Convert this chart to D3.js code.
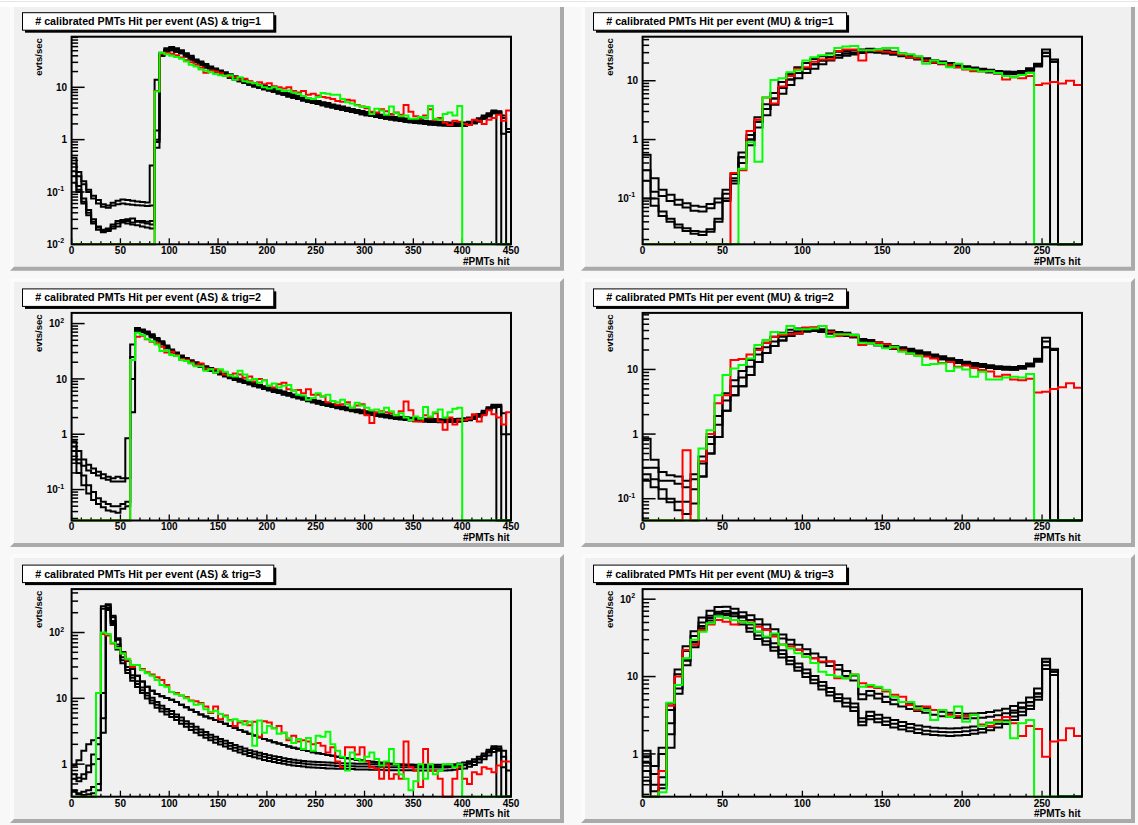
<!DOCTYPE html>
<html>
<head>
<meta charset="utf-8">
<style>
body { margin: 0; background: #f8f8f8; }
svg { display: block; font-family: "Liberation Sans", Arial, sans-serif; font-weight: bold; }
</style>
</head>
<body>
<svg width="1138" height="825"></svg>
<script src="https://cdn.jsdelivr.net/npm/d3@7"></script>
<script>

var binW = 5;
var asXTicks = [0, 50, 100, 150, 200, 250, 300, 350, 400, 450];
var muXTicks = [0, 50, 100, 150, 200, 250];
var titles = [
  "# calibrated PMTs Hit per event (AS) & trig=1",
  "# calibrated PMTs Hit per event (MU) & trig=1",
  "# calibrated PMTs Hit per event (AS) & trig=2",
  "# calibrated PMTs Hit per event (MU) & trig=2",
  "# calibrated PMTs Hit per event (AS) & trig=3",
  "# calibrated PMTs Hit per event (MU) & trig=3"
];
var yDomains = [[0.01, 92.7], [0.0166, 56], [0.0276, 156], [0.046, 75], [0.32, 457], [0.28, 135]];

// ---------- AS trig=1 (bins of 5, 0..450) ----------
var asT1LowA = [0.45,0.24,0.16,0.11,0.085,0.07,0.058,0.055,0.062,0.068, 0.072,0.07,0.068,0.066,0.064,0.063,0.32,14];
var asT1LowB = [0.35,0.2,0.14,0.1,0.075,0.06,0.052,0.05,0.055,0.058, 0.06,0.058,0.057,0.056,0.055,0.054,0.055,1.5];
var asT1LowC = [0.25,0.13,0.075,0.045,0.03,0.022,0.019,0.02,0.024,0.028, 0.029,0.028,0.026,0.027,0.028,0.025,0.024,0.7];
var asT1LowD = [0.15,0.1,0.06,0.036,0.025,0.019,0.017,0.018,0.02,0.022, 0.027,0.03,0.031,0.028,0.026,0.027,0.028,1.0];
var asT1LowE = [0.2,0.11,0.065,0.04,0.027,0.021,0.018,0.019,0.022,0.025, 0.026,0.025,0.024,0.023,0.022,0.021,0.02,0.9];
// bins 90..430
var asT1MainHi = [46,56,59,56,51,45,40,34,31,28,
  25,23,21,19.3,17.7,16.3,15,13.9,12.8,12,
  11.2,10.6,10.1,9.4,8.8,8.2,7.7,7.3,6.8,6.4,
  6.1,5.8,5.5,5.2,5.0,4.7,4.5,4.3,4.07,3.87,
  3.7,3.53,3.38,3.24,3.11,3.0,2.89,2.78,2.7,2.61,
  2.54,2.47,2.41,2.35,2.3,2.25,2.2,2.17,2.14,2.12,
  2.11,2.11,2.12,2.19,2.35,2.57,2.89,3.2,3.6];
var asT1MainMid = [43,52,55,52,48,42,37,32,29,26,
  23.5,21.5,19.5,18,16.5,15.2,14,13,12,11.2,
  10.5,9.9,9.4,8.8,8.2,7.7,7.2,6.8,6.4,6.0,
  5.7,5.4,5.15,4.9,4.65,4.42,4.2,4.0,3.8,3.62,
  3.46,3.3,3.16,3.03,2.91,2.8,2.7,2.6,2.52,2.44,
  2.37,2.31,2.25,2.2,2.15,2.1,2.06,2.03,2.0,1.98,
  1.97,1.97,1.98,2.05,2.2,2.4,2.7,3.0,3.4];
var asT1MainLo = [40,48,51,48,45,39,34,30,27,24,
  21.9,20,18.1,16.7,15.3,14.1,13,12.1,11.2,10.4,
  9.8,9.2,8.7,8.2,7.6,7.2,6.7,6.3,5.95,5.6,
  5.3,5.0,4.8,4.56,4.32,4.1,3.9,3.72,3.53,3.37,
  3.22,3.07,2.94,2.82,2.71,2.6,2.51,2.42,2.34,2.27,
  2.2,2.15,2.09,2.05,2.0,1.95,1.92,1.89,1.86,1.84,
  1.83,1.83,1.84,1.91,2.05,2.23,2.5,2.8,3.2];
var asT1Black = [
  asT1LowA.concat(asT1MainHi, [3.3, 2.6, 1.6]),
  asT1LowB.concat(asT1MainMid, [0, 0, 0]),
  asT1LowC.concat(asT1MainLo, [3.4, 0, 0]),
  asT1LowD.concat(asT1MainMid, [3.5, 1.3, 0]),
  asT1LowE.concat(asT1MainLo, [3.2, 2.9, 1.4])
];
var asT1Red = [0,0,0,0,0,0,0,0,0,0,
  0,0,0,0,0,0,0,8.5,44,46,
  44,41,37,33,30,27,24,19,21,20,
  18.5,17,16,15.5,14,14.5,13,12,12.5,11.5,
  12,10.5,10,9.5,10,8.5,8.0,8.5,7.2,7.5,
  7,6.5,6.3,6.0,5.5,5.3,5.8,5.6,4.6,4.3,
  4.0,3.4,3.3,3.8,3.5,3.1,3.3,3.0,4.6,3.4,
  2.8,2.6,2.9,3.8,2.4,2.6,2.1,1.9,2.3,2.2,
  2.0,1.9,2.4,2.3,2.0,2.4,2.6,3.0,2.3,3.6];
var asT1Green = [0,0,0,0,0,0,0,0,0,0,
  0,0,0,0,0,0,0,8.3,46,43,
  40,38,35,31,27,25,22,21,19.5,18,
  17,16.5,17,14,15.5,13,12.5,12,11,10,
  9.5,10,9.2,8.5,8.7,8,7.5,6.8,6.2,6,
  6.5,7.8,7.5,7.2,7.2,6.0,5.2,4.9,4.5,4.3,
  4.2,3.1,3.9,3.6,3.0,4.3,3.2,2.8,2.9,2.5,
  2.5,2.7,2.6,4.4,2.5,2.4,3.1,3.3,2.9,4.4,
  0,0,0,0,0,0,0,0,0,0];

// ---------- MU trig=1 (bins of 5, 0..275) ----------
var muT1LowA = [0.55,0.22,0.14,0.115,0.095,0.083,0.075,0.072,0.08,0.1,0.14,0.26];
var muT1LowB = [0.3,0.13,0.11,0.09,0.078,0.07,0.062,0.06,0.068,0.085,0.12,0.22];
var muT1LowC = [0.2,0.1,0.06,0.045,0.036,0.031,0.028,0.027,0.03,0.045,0.1,0.2];
var muT1LowD = [0.1,0.075,0.05,0.04,0.032,0.028,0.025,0.024,0.027,0.04,0.09,0.18];
// bins 60..270
var muT1MainHi = [0.6,1.2,2.4,4.0,6.2,9.5,13,17,20,23.5,
  26,29,31,32,33,34,35,34,32.5,31,
  29,27.5,25.5,24,22.3,21.2,20,18.8,17.7,16.8,
  16,15.3,14.7,14.3,14.2,14.7,16.3,19.5,34,23,
  0,0,0];
var muT1MainMid = [0.5,1.0,2.0,3.3,5.0,7.5,10.5,13.5,16,19,
  22,25,27,29,30,31,32,31.5,30.5,29,
  27.5,26,24,22.5,21,20,19,17.8,16.8,16,
  15.2,14.5,14,13.6,13.5,14,15.5,18.5,30,21,
  0,0,0];
var muT1MainLo = [0.4,0.8,1.6,2.6,3.9,6,8.5,11,13.5,16,
  19,22,24.5,26.5,28,29.5,30.5,30,29,27.5,
  26,24.5,23,21.5,20,19,18,17,16,15.2,
  14.5,13.8,13.3,13,12.9,13.3,14.8,17.5,26,0,
  0,0,0];
var muT1Black = [
  muT1LowA.concat(muT1MainHi),
  muT1LowB.concat(muT1MainMid),
  muT1LowC.concat(muT1MainLo),
  muT1LowD.concat(muT1MainMid)
];
var muT1Red = [0,0,0,0,0,0,0,0,0,0,
  0,0.27,0.3,1.4,2.2,5.2,4.1,8.0,12,16,
  17,21,23,23,32,34,34,22,33,32,
  31,30,27.5,25,24,22,20.5,19.5,18.5,17,
  15.5,14.5,14.5,14.5,13.3,10.5,11.5,11,12,8.5,
  9,9.5,9,10,8.5];
var muT1Green = [0,0,0,0,0,0,0,0,0,0,
  0,0,0.32,0.9,0.42,5.2,10.3,11,14,15,
  22,25,27,28,36,38,39,33,33,34,
  36,36,29,28,26,19.5,22,20,17,19.5,
  16,15.5,14.3,14.5,13.5,12,11.5,12.5,13.5,0,
  0,0,0,0,0];

// ---------- AS trig=2 ----------
var asT2LowA = [0.75,0.5,0.35,0.28,0.24,0.21,0.19,0.17,0.16,0.17,0.16,0.85,42];
var asT2LowB = [0.6,0.35,0.27,0.22,0.2,0.18,0.16,0.15,0.14,0.14,0.14,0.16,25];
var asT2LowC = [0.5,0.3,0.18,0.12,0.09,0.07,0.06,0.055,0.05,0.05,0.055,0.06,2.5];
var asT2LowD = [0.35,0.2,0.12,0.085,0.065,0.055,0.048,0.042,0.04,0.038,0.045,0.05,10];
// bins 65..430
var asT2MainHi = [83,78,72,64,55,48,40,34,30,26.5,
  23.8,21.7,20.1,18.5,17,15.7,14.6,13.6,12.5,11.7,
  10.8,10.1,9.4,8.9,8.4,7.8,7.4,7.0,6.6,6.25,
  5.9,5.57,5.25,4.98,4.72,4.45,4.24,4.03,3.82,3.66,
  3.5,3.34,3.18,3.05,2.93,2.81,2.7,2.6,2.5,2.42,
  2.33,2.26,2.19,2.13,2.08,2.04,1.99,1.96,1.93,1.91,
  1.89,1.88,1.87,1.87,1.88,1.89,1.91,1.95,2.01,2.12,
  2.33,2.65,3.07,3.4];
var asT2MainMid = [78,74,68,60,52,45,38,32,28,25,
  22.5,20.5,19,17.5,16,14.8,13.8,12.8,11.8,11,
  10.2,9.5,8.9,8.4,7.9,7.4,7.0,6.6,6.2,5.9,
  5.55,5.25,4.95,4.7,4.45,4.2,4.0,3.8,3.6,3.45,
  3.3,3.15,3.0,2.88,2.76,2.65,2.55,2.45,2.36,2.28,
  2.2,2.13,2.07,2.01,1.96,1.92,1.88,1.85,1.82,1.8,
  1.78,1.77,1.76,1.76,1.77,1.78,1.8,1.84,1.9,2.0,
  2.2,2.5,2.9,3.2];
var asT2MainLo = [73,70,64,56,49,42,36,30,26.3,23.5,
  21.2,19.3,17.9,16.5,15,13.9,13,12,11.1,10.3,
  9.6,8.9,8.4,7.9,7.4,7.0,6.6,6.2,5.8,5.55,
  5.2,4.94,4.65,4.42,4.18,3.95,3.76,3.57,3.38,3.24,
  3.1,2.96,2.82,2.71,2.59,2.49,2.4,2.3,2.22,2.14,
  2.07,2.0,1.95,1.89,1.84,1.8,1.77,1.74,1.71,1.69,
  1.67,1.66,1.65,1.65,1.66,1.67,1.69,1.73,1.79,1.88,
  2.07,2.35,2.73,3.0];
var asT2Black = [
  asT2LowA.concat(asT2MainHi, [3.4, 2.4, 1.0]),
  asT2LowB.concat(asT2MainMid, [0, 0, 0]),
  asT2LowC.concat(asT2MainLo, [3.1, 0, 0]),
  asT2LowD.concat(asT2MainMid, [3.3, 1.0, 0])
];
var asT2Red = [0,0,0,0,0,0,0,0,0,0,
  0,0,22,58,60,52,47,44,38,30,
  31,27,23,22,20,18,19,15.5,15,15,
  13.5,12,11.5,12.5,12,10.5,11,9,10,9.5,
  7.5,7,8,8.5,6.5,6.2,6.3,5.5,6.5,5.2,
  5.2,4.8,3.8,4.0,3.4,3.5,3.8,3.0,3.3,3.5,
  2.2,1.6,2.5,2.6,2.5,2.4,2.2,2.6,3.9,2.7,
  1.7,1.7,2.2,2.0,2.4,1.7,1.2,2.0,1.5,1.8,
  1.8,1.9,2.3,1.7,2.2,2.7,2.3,2.0,1.5,2.5];
var asT2Green = [0,0,0,0,0,0,0,0,0,0,
  0,0,22,68,62,53,48,42,32,33,
  27,26,22,21,19,17,17,14,15,13,
  15,13.5,11.5,11,14,12,9.5,10,8.5,9.5,
  7.5,8.3,7,7.5,7.8,6.2,5.2,5.0,4.2,4.5,
  5.5,4.8,5.2,4.0,3.8,4.2,3.5,3.0,3.7,3.3,
  3.0,2.7,2.8,2.5,3.0,2.6,2.2,2.4,2.0,1.8,
  2.1,1.9,3.1,2.1,2.5,2.8,2.0,2.5,2.9,3.0,
  0,0,0,0,0,0,0,0,0,0];

// ---------- MU trig=2 ----------
var muT2LowA = [0.85,0.4,0.26,0.23,0.22,0.19,0.24];
var muT2LowB = [0.3,0.3,0.19,0.19,0.17,0.15,0.2];
var muT2LowC = [0.24,0.2,0.14,0.1,0.09,0.09,0.14];
var muT2LowD = [0.19,0.15,0.1,0.088,0.066,0.058,0.084];
// bins 35..270
var muT2MainHi = [0.45,0.9,1.9,4.3,6.8,9.5,14,21,26,32,
  37,41,43,44,44,42,40,38,37,34.5,
  29.5,28.5,26.3,24.7,23,22,21,19.7,18.4,17.1,
  16,14.9,14,13.2,12.6,12.1,11.6,11.2,11.0,10.9,
  11.3,12.4,14.7,31,21,0,0,0];
var muT2MainMid = [0.35,0.7,1.4,3.3,5.5,7.5,11,17,22,27,
  32,37,39,41,41.5,40,38,36,35,33,
  28,27,25,23.5,22,21,20,18.8,17.5,16.3,
  15.2,14.2,13.3,12.6,12,11.5,11,10.7,10.5,10.4,
  10.8,11.8,14,27,20,0,0,0];
var muT2MainLo = [0.22,0.5,0.9,2.3,4.0,5.5,8.2,13,18,23,
  28,33,36,38.5,39.5,38,36,34,33,31.5,
  26.5,25.5,23.7,22.3,21,20,19,17.9,16.6,15.5,
  14.4,13.5,12.6,12,11.4,10.9,10.5,10.2,10.0,9.9,
  10.3,11.2,13.3,22,0,0,0,0];
var muT2Black = [
  muT2LowA.concat(muT2MainHi),
  muT2LowB.concat(muT2MainMid),
  muT2LowC.concat(muT2MainLo),
  muT2LowD.concat(muT2MainLo)
];
var muT2Red = [0,0,0,0,0,0.56,0,0.38,1.0,3.0,
  4.0,14,14.5,17,20,26,32,34,35,36,
  44,45,47,38,33,34,33,24,26,26,
  24.5,21.5,20,17.5,16.8,15.8,14.8,12.6,13,11,
  11.5,10.5,9.8,9.3,7.8,8.3,7.0,6.8,7.2,4.4,
  4.5,5.0,5.3,6.1,5.2];
var muT2Green = [0,0,0,0,0,0,0,0.6,1.15,4.0,
  8.2,10.3,11.7,14.8,23.8,28.5,38,36,47,42,
  42,43,47,32,35,35,34,26,25.4,23.8,
  21.2,22.4,18.8,17.6,16.1,11.7,12.1,12.4,9.5,10.7,
  10,7.7,9.2,7,7,7.5,7.7,7.5,8.5,0,
  0,0,0,0,0];

// ---------- AS trig=3 ----------
var asT3LowU1 = [0.95,1.15,1.6,2.0,2.3,2.5,250,260,180,82];
var asT3LowU2 = [0.7,0.62,0.7,0.95,1.4,2.0,230,270,170,78];
var asT3LowL1 = [0.6,0.55,0.6,0.75,1.0,1.2,12,230,150,66];
var asT3LowL2 = [0.4,0.36,0.38,0.4,0.45,0.5,5,240,140,60];
var asT3LowL3 = [0.38,0.35,0.34,0.35,0.36,0.4,3,220,130,55];
// bins 50..430
var asT3MainU = [50,37,28,22,18,15,13,11.6,10.8,10.1,
  9.5,8.8,8.0,7.3,6.7,6.2,5.7,5.3,5.0,4.7,
  4.4,4.1,3.8,3.55,3.3,3.1,2.9,2.72,2.56,2.42,
  2.28,2.16,2.05,1.95,1.86,1.78,1.71,1.64,1.58,1.52,
  1.47,1.42,1.38,1.34,1.3,1.26,1.23,1.2,1.17,1.14,
  1.12,1.09,1.07,1.05,1.03,1.01,1.0,0.98,0.97,0.96,
  0.95,0.94,0.93,0.92,0.92,0.91,0.91,0.92,0.93,0.95,
  0.98,1.03,1.1,1.2,1.35,1.55,1.75];
var asT3MainLHi = [42,30,22.5,18.2,14.6,12.1,10.2,8.8,7.7,6.9,
  6.4,5.7,5.1,4.5,4.1,3.7,3.35,3.08,2.8,2.6,
  2.42,2.26,2.09,1.96,1.84,1.73,1.63,1.55,1.49,1.42,
  1.36,1.32,1.28,1.23,1.2,1.17,1.14,1.12,1.1,1.09,
  1.08,1.07,1.06,1.05,1.03,1.03,1.02,1.02,1.01,1.01,
  1.01,1.0,1.0,1.0,0.99,0.99,0.99,0.99,0.99,0.99,
  0.98,0.98,0.98,0.98,0.98,0.98,0.98,0.99,1.0,1.02,
  1.06,1.11,1.19,1.3,1.45,1.65,1.87];
var asT3MainLMid = [38,27,20.5,16.5,13.3,11,9.3,8.0,7.0,6.3,
  5.8,5.2,4.6,4.1,3.7,3.35,3.05,2.8,2.55,2.36,
  2.2,2.05,1.9,1.78,1.67,1.57,1.48,1.41,1.35,1.29,
  1.24,1.2,1.16,1.12,1.09,1.06,1.04,1.02,1.0,0.99,
  0.98,0.97,0.96,0.95,0.94,0.94,0.93,0.93,0.92,0.92,
  0.92,0.91,0.91,0.91,0.9,0.9,0.9,0.9,0.9,0.9,
  0.89,0.89,0.89,0.89,0.89,0.89,0.89,0.9,0.91,0.93,
  0.96,1.01,1.08,1.18,1.32,1.5,1.7];
var asT3MainLLo = [34,24.3,18.5,14.9,12,9.9,8.4,7.2,6.3,5.7,
  5.2,4.7,4.1,3.7,3.3,3.0,2.75,2.52,2.3,2.12,
  1.98,1.85,1.71,1.6,1.5,1.41,1.33,1.27,1.22,1.16,
  1.12,1.08,1.04,1.01,0.98,0.95,0.94,0.92,0.9,0.89,
  0.88,0.87,0.86,0.86,0.85,0.85,0.84,0.84,0.83,0.83,
  0.83,0.82,0.82,0.82,0.81,0.81,0.81,0.81,0.81,0.81,
  0.8,0.8,0.8,0.8,0.8,0.8,0.8,0.81,0.82,0.84,
  0.86,0.91,0.97,1.06,1.19,1.35,1.53];
var asT3Black = [
  asT3LowU1.concat(asT3MainU, [1.85, 1.6, 0.8]),
  asT3LowU2.concat(asT3MainU, [1.7, 0, 0]),
  asT3LowL1.concat(asT3MainLHi, [1.75, 1.3, 0]),
  asT3LowL2.concat(asT3MainLMid, [0, 0, 0]),
  asT3LowL3.concat(asT3MainLLo, [1.6, 0.9, 0])
];
var asT3Red = [0,0,0,0,0,12,95,90,68,58,
  48,38,30,32,28,25,23,21,19,16,
  12.5,12,11,10.5,9.3,9,8.5,7.5,6,7.5,
  4.8,5.5,4.7,3.8,4.3,4.5,3.9,4.4,2.6,4.5,
  4.3,3.5,3.8,3.0,2.3,2.7,2.2,2.3,2.2,2.0,
  2.1,1.9,1.5,1.8,1.1,0.9,1.8,1.8,1.4,1.8,
  1.1,0.9,0.85,0.6,1.0,0.6,0.7,0.6,2.2,0.9,
  0.8,0.45,1.7,0.8,0.8,0.6,0,0,0.6,0.9,
  0.6,0.5,0.75,0.7,0.9,0.85,0.75,0.95,1.1,1.1];
var asT3Green = [0,0,0,0,0,12,100,95,70,58,
  48,40,32,32,27,24,22,19,16,15,
  12.5,11.5,11,10,9,8,8.2,6.8,6.2,6.5,
  5.8,5.3,4.6,4.8,4.5,4.0,4.4,1.9,4.6,3.0,
  3.8,3.5,2.9,3.0,2.5,2.1,2.4,1.7,2.5,1.6,
  2.7,2.6,3.1,2.0,1.6,1.3,0.8,1.5,1.2,1.1,
  1.3,1.5,1.2,0.95,1.1,1.7,1.0,0.7,0.6,0.4,
  0.55,1.0,0.6,1.0,0.7,0.8,1.0,1.0,0.9,1.0,
  0,0,0,0,0,0,0,0,0,0];

// ---------- MU trig=3 ----------
var muT3LowUA = [1.1,0.7,1.2,4.5];
var muT3LowUB = [0.93,0.55,1.0,3.7];
var muT3LowLA = [0.77,0.4,0.5,2.5,7.8,17,28,45,57,66,70];
var muT3LowLB = [0.6,0.33,0.36,1.8,7,16,26,42,53,62,65];
var muT3LowLC = [0.45,0,0.4,1.2,6,14,24,40,49,60,62];
// bins 20..270
var muT3UpperHi = [12.3,24.6,38.5,58,71,79,80,75,68,62,
  55,47,41,35,30,25.7,22.5,19.8,17.7,15.7,
  14.1,11.8,10.3,5.9,6.5,6.0,5.5,5.0,4.7,4.4,
  4.1,3.9,3.7,3.5,3.4,3.37,3.3,3.34,3.37,3.48,
  3.64,3.85,4.17,4.6,5.35,7.0,17,12.2,0,0,
  0];
var muT3UpperLo = [10.7,21.4,33.5,50,61,69,70,65,60,54,
  47,41,35,31,26,22.3,19.5,17.2,15.3,13.7,
  12.3,10.2,8.9,5.1,5.7,5.2,4.7,4.4,4.1,3.8,
  3.6,3.4,3.2,3.07,3.0,2.93,2.88,2.9,2.93,3.02,
  3.16,3.35,3.63,4.0,4.65,6.0,15.5,11.5,0,0,
  0];
// bins 55..270
var muT3LowerHi = [67,58,47,38,32,27,21.8,17.9,14.8,12.3,
  10.2,8.5,7.1,5.9,5.2,4.5,2.9,3.5,3.2,2.93,
  2.74,2.58,2.44,2.33,2.24,2.18,2.15,2.13,2.15,2.2,
  2.26,2.35,2.52,2.74,3.0,3.4,3.9,4.7,6.1,15.5,
  11.5,0,0,0];
var muT3LowerMid = [60,52,42,34,28.5,24,19.5,16,13.2,11,
  9.1,7.6,6.3,5.3,4.6,4.0,2.6,3.1,2.85,2.62,
  2.45,2.3,2.18,2.08,2.0,1.95,1.92,1.9,1.92,1.96,
  2.02,2.1,2.25,2.45,2.7,3.05,3.5,4.2,5.5,14,
  10.5,0,0,0];
var muT3LowerLo = [54,47,38,30.6,25.7,21.6,17.6,14.4,11.9,9.9,
  8.2,6.8,5.7,4.8,4.1,3.6,2.34,2.8,2.57,2.36,
  2.2,2.07,1.96,1.87,1.8,1.76,1.73,1.71,1.73,1.76,
  1.82,1.89,2.03,2.2,2.43,2.75,3.15,3.8,5.0,12.5,
  0,0,0,0];
var muT3Black = [
  muT3LowUA.concat(muT3UpperHi),
  muT3LowUB.concat(muT3UpperLo),
  muT3LowLA.concat(muT3LowerHi),
  muT3LowLB.concat(muT3LowerMid),
  muT3LowLC.concat(muT3LowerLo)
];
var muT3Red = [0,0,0.6,4.2,10,22,26,40,47,54,
  51,47,51,50,44,40,33,26,24.5,22,
  18,17.3,15.6,15.6,9.5,9.5,10.6,8.2,7.4,7.1,
  6.4,5.8,5.5,4.3,3.7,4.1,3.7,3.7,3.2,3.1,
  3.1,3.2,2.4,2.3,2.75,3.0,2.5,1.7,2.3,2.1,
  0.92,1.45,1.5,2.15,1.7];
var muT3Green = [0,0,0.32,4.6,7.8,17.3,30,38,49,60,
  57,54,51,49,38,33,36,26,23,20,
  18,15,11.5,10.5,10,9.5,10.6,7.4,7.8,7.4,
  6.7,5.5,4.7,4.7,3.9,3.7,2.75,3.7,3.0,4.1,
  2.6,3.2,2.3,2.5,2.6,2.6,1.6,2.5,2.75,0,
  0,0,0,0,0];

var panels = [
  {xMax: 450, ticks: asXTicks, black: asT1Black, red: asT1Red, green: asT1Green},
  {xMax: 275, ticks: muXTicks, black: muT1Black, red: muT1Red, green: muT1Green},
  {xMax: 450, ticks: asXTicks, black: asT2Black, red: asT2Red, green: asT2Green},
  {xMax: 275, ticks: muXTicks, black: muT2Black, red: muT2Red, green: muT2Green},
  {xMax: 450, ticks: asXTicks, black: asT3Black, red: asT3Red, green: asT3Green},
  {xMax: 275, ticks: muXTicks, black: muT3Black, red: muT3Red, green: muT3Green}
];

var svg = d3.select("svg");
var padW = 554, padH = 269, bev = 4;
var fx0 = 61.6, fx1 = 501, fy0 = 35, fy1 = 242.6;

panels.forEach(function(p, i) {
  var col = i % 2, row = Math.floor(i / 2);
  var g = svg.append("g")
      .attr("transform", "translate(" + (10 + 571 * col) + "," + (1.7 + 276.2 * row) + ")");

  // pad with raised bevel
  g.append("rect").attr("width", padW).attr("height", padH).attr("fill", "#f0f0f0");
  g.append("path")
      .attr("d", "M0,0H" + padW + "L" + (padW - bev) + "," + bev + "H" + bev + "V" + (padH - bev) + "L0," + padH + "Z")
      .attr("fill", "#fbfbfb");
  g.append("path")
      .attr("d", "M" + padW + ",0V" + padH + "H0L" + bev + "," + (padH - bev) + "H" + (padW - bev) + "V" + bev + "Z")
      .attr("fill", "#aaaaaa");

  var x = d3.scaleLinear().domain([0, p.xMax]).range([fx0, fx1]);
  var y = d3.scaleLog().domain(yDomains[i]).range([fy1, fy0]);
  var ymin = yDomains[i][0], ymax = yDomains[i][1];

  // x ticks
  for (var v = 0; v <= p.xMax; v += 10) {
    var len = v % 50 === 0 ? 6 : 3;
    g.append("line").attr("x1", x(v)).attr("x2", x(v))
        .attr("y1", fy1).attr("y2", fy1 - len)
        .attr("stroke", "#000").attr("stroke-width", 1.3);
  }
  g.selectAll(".xl").data(p.ticks).enter().append("text")
      .attr("x", function(d) { return x(d); })
      .attr("y", fy1 + 10)
      .attr("text-anchor", "middle")
      .attr("font-size", 10)
      .text(function(d) { return d; });

  // y ticks (log)
  var k0 = Math.floor(Math.log10(ymin)), k1 = Math.ceil(Math.log10(ymax));
  for (var k = k0; k <= k1; k++) {
    for (var m = 1; m <= 9; m++) {
      var val = m * Math.pow(10, k);
      if (val < ymin * 0.999 || val > ymax) continue;
      var yy = y(val);
      g.append("line").attr("x1", fx0).attr("x2", fx0 + (m === 1 ? 13 : 6.5))
          .attr("y1", yy).attr("y2", yy)
          .attr("stroke", "#000").attr("stroke-width", 1.5);
      if (m === 1) {
        var plain = (k === 0 || k === 1);
        var t = g.append("text")
            .attr("x", fx0 - (plain ? 4.6 : 7.5))
            .attr("y", yy + 3.6)
            .attr("text-anchor", "end")
            .attr("font-size", 10);
        if (plain) {
          t.text(k === 0 ? "1" : "10");
        } else {
          t.append("tspan").text("10");
          t.append("tspan").attr("dy", -4.5).attr("font-size", 7).text(k);
        }
      }
    }
  }

  // histograms
  g.append("clipPath").attr("id", "clip" + i)
    .append("rect").attr("x", fx0 - 1).attr("y", fy0).attr("width", fx1 - fx0 + 2).attr("height", fy1 - fy0 + 1.5);
  var hg = g.append("g").attr("clip-path", "url(#clip" + i + ")");
  var line = d3.line()
      .x(function(d) { return x(d[0]); })
      .y(function(d) { return d[1] > ymin ? Math.max(y(d[1]), fy0) : fy1; })
      .curve(d3.curveStepAfter);
  function pts(vals) {
    var out = vals.map(function(v, j) { return [j * binW, v]; });
    out.push([vals.length * binW, vals[vals.length - 1]]);
    return out;
  }
  p.black.forEach(function(s) {
    hg.append("path").attr("d", line(pts(s))).attr("fill", "none")
        .attr("stroke", "#000").attr("stroke-width", 2);
  });
  hg.append("path").attr("d", line(pts(p.red))).attr("fill", "none")
      .attr("stroke", "#ff0000").attr("stroke-width", 2);
  hg.append("path").attr("d", line(pts(p.green))).attr("fill", "none")
      .attr("stroke", "#00ff00").attr("stroke-width", 2);

  // frame
  g.append("rect").attr("x", fx0).attr("y", fy0)
      .attr("width", fx1 - fx0).attr("height", fy1 - fy0)
      .attr("fill", "none").attr("stroke", "#000").attr("stroke-width", 2);

  // axis titles
  g.append("text")
      .attr("transform", "translate(32," + (fy0 + 1.5) + ") rotate(-90)")
      .attr("text-anchor", "end")
      .attr("font-size", 9.5)
      .text("evts/sec");
  g.append("text")
      .attr("x", fx1 - 1.5).attr("y", 263)
      .attr("text-anchor", "end")
      .attr("font-size", 10)
      .text("#PMTs hit");

  // title box with shadow
  var tb = g.append("g");
  var tt = tb.append("text").attr("font-size", 10.7).text(titles[i]);
  var tw = tt.node().getComputedTextLength();
  var bw = tw + 25.5, bx = 12.5, by = 11, bh = 17.5;
  tb.insert("rect", "text").attr("x", bx + 2.5).attr("y", by + 2.5).attr("width", bw).attr("height", bh).attr("fill", "#000");
  tb.insert("rect", "text").attr("x", bx).attr("y", by).attr("width", bw).attr("height", bh)
      .attr("fill", "#fff").attr("stroke", "#000").attr("stroke-width", 1);
  tt.attr("x", bx + bw / 2).attr("y", by + 12.5).attr("text-anchor", "middle");
});

// top strip of the screenshot
svg.append("rect").attr("width", 1138).attr("height", 7).attr("fill", "#fff");
svg.append("line").attr("x1", 0).attr("x2", 1138).attr("y1", 1.5).attr("y2", 1.5)
    .attr("stroke", "#e6e6e6").attr("stroke-width", 1);

</script>
</body>
</html>
